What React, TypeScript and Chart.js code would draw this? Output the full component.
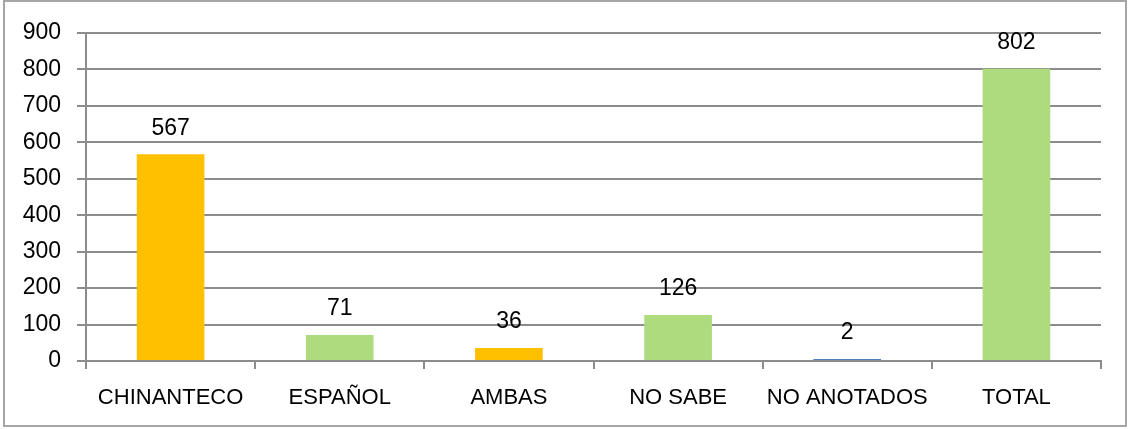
import React, { useEffect, useRef } from "react";
import { Chart, registerables } from "chart.js";

Chart.register(...registerables);

const categories = ["CHINANTECO", "ESPAÑOL", "AMBAS", "NO SABE", "NO ANOTADOS", "TOTAL"];
const values = [567, 71, 36, 126, 2, 802];
const barColors = ["#FFC000", "#AEDB7D", "#FFC000", "#AEDB7D", "#4F81BD", "#AEDB7D"];
const yTicks = [0, 100, 200, 300, 400, 500, 600, 700, 800, 900];

const FONT = "'Liberation Sans', Arial, sans-serif";
const GRID = "#8c8c8c";

export default function App() {
  const ref = useRef<HTMLCanvasElement | null>(null);

  useEffect(() => {
    if (!ref.current) return;
    const framePlugin = {
      id: "frame",
      beforeDraw(chart: any) {
        const ctx = chart.ctx;
        ctx.save();
        ctx.fillStyle = "#ffffff";
        ctx.fillRect(0, 0, chart.width, chart.height);
        ctx.strokeStyle = "#a6a6a6";
        ctx.lineWidth = 2;
        ctx.strokeRect(4, 1, 1122, 425);
        ctx.restore();
      },
    };
    const valuePlugin = {
      id: "values",
      afterDatasetsDraw(chart: any) {
        const ctx = chart.ctx;
        const meta = chart.getDatasetMeta(0);
        ctx.save();
        ctx.font = `23px ${FONT}`;
        ctx.fillStyle = "#000000";
        ctx.textAlign = "center";
        ctx.textBaseline = "middle";
        meta.data.forEach((bar: any, i: number) => {
          ctx.fillText(String(values[i]), bar.x, bar.base - (bar.base - bar.y) - 26);
        });
        ctx.restore();
      },
    };
    const chart = new Chart(ref.current, {
      type: "bar",
      data: {
        labels: categories,
        datasets: [
          {
            data: values,
            backgroundColor: barColors,
            borderWidth: 0,
            barPercentage: 0.4,
            categoryPercentage: 1,
            minBarLength: 2,
          },
        ],
      },
      options: {
        responsive: false,
        animation: false,
        devicePixelRatio: 1,
        layout: { padding: { left: 0, top: 33, right: 30, bottom: 0 } },
        plugins: { legend: { display: false }, tooltip: { enabled: false } },
        scales: {
          x: {
            offset: true,
            grid: {
              offset: true,
              drawOnChartArea: false,
              drawTicks: true,
              tickLength: 8,
              color: GRID,
              lineWidth: 2,
            },
            border: { display: true, color: GRID, width: 2 },
            ticks: {
              color: "#000000",
              font: { family: FONT, size: 22 },
              padding: 16,
              maxRotation: 0,
              autoSkip: false,
            },
            afterFit(s: any) {
              s.height = 68;
            },
          },
          y: {
            min: 0,
            max: 900,
            afterBuildTicks(s: any) {
              s.ticks = yTicks.map((v) => ({ value: v }));
            },
            grid: { color: GRID, lineWidth: 2, tickLength: 9, drawTicks: true },
            border: { display: true, color: GRID, width: 2 },
            ticks: {
              color: "#000000",
              font: { family: FONT, size: 23 },
              padding: 16,
            },
            afterFit(s: any) {
              s.width = 86;
            },
          },
        },
      },
      plugins: [framePlugin, valuePlugin],
    });
    return () => chart.destroy();
  }, []);

  return (
    <div style={{ position: "fixed", left: 0, top: 0, width: 1131, height: 429 }}>
      <canvas ref={ref} width={1131} height={429} />
    </div>
  );
}
